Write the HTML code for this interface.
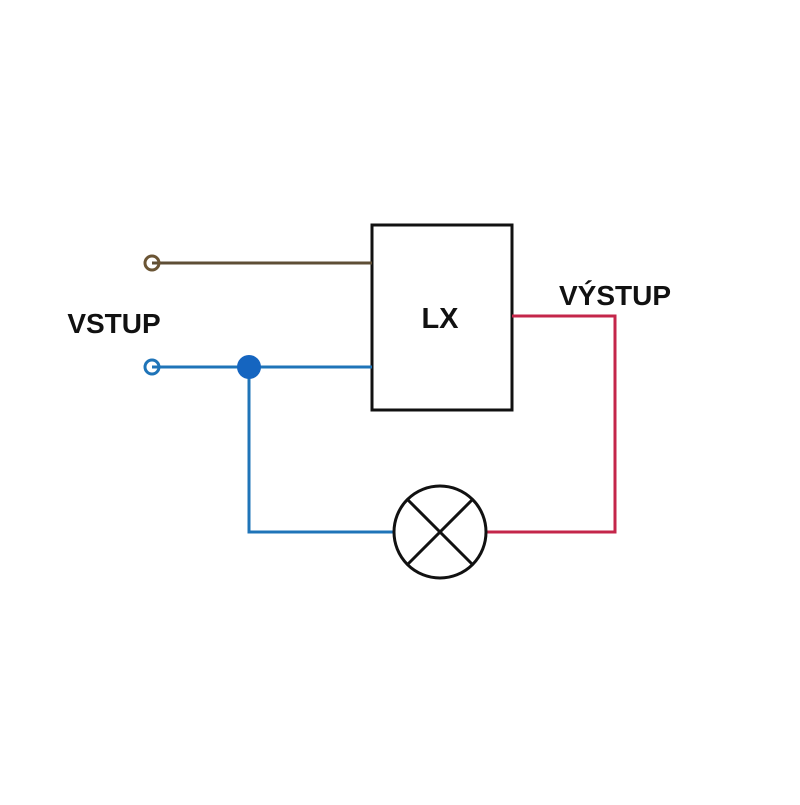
<!DOCTYPE html>
<html><head><style>body{margin:0;background:#fff}</style></head><body>
<svg width="800" height="800" xmlns="http://www.w3.org/2000/svg">
<rect width="800" height="800" fill="#fff"/>
<rect x="372" y="225" width="140" height="185" fill="none" stroke="#111" stroke-width="3"/>
<text x="440" y="328" font-family="Liberation Sans, sans-serif" font-weight="bold" font-size="29" text-anchor="middle" fill="#111">LX</text>
<text x="114" y="333" font-family="Liberation Sans, sans-serif" font-weight="bold" font-size="28" text-anchor="middle" fill="#111">VSTUP</text>
<text x="615" y="305" font-family="Liberation Sans, sans-serif" font-weight="bold" font-size="28" text-anchor="middle" fill="#111">VÝSTUP</text>
<line x1="152" y1="263" x2="372" y2="263" stroke="#5e4e35" stroke-width="3"/>
<circle cx="152" cy="263" r="7" fill="none" stroke="#6b5535" stroke-width="3"/>
<polyline points="152,367 372,367" fill="none" stroke="#1f74b8" stroke-width="3"/>
<polyline points="249,367 249,532 395,532" fill="none" stroke="#1f74b8" stroke-width="3"/>
<circle cx="152" cy="367" r="7" fill="none" stroke="#1f74b8" stroke-width="3"/>
<circle cx="249" cy="367" r="12" fill="#1565c0"/>
<polyline points="512,316 615,316 615,532 487,532" fill="none" stroke="#c4264a" stroke-width="3"/>
<circle cx="440" cy="532" r="46" fill="#fff" stroke="#111" stroke-width="3"/>
<line x1="407" y1="499" x2="473" y2="565" stroke="#111" stroke-width="3"/>
<line x1="473" y1="499" x2="407" y2="565" stroke="#111" stroke-width="3"/>
</svg>
</body></html>
